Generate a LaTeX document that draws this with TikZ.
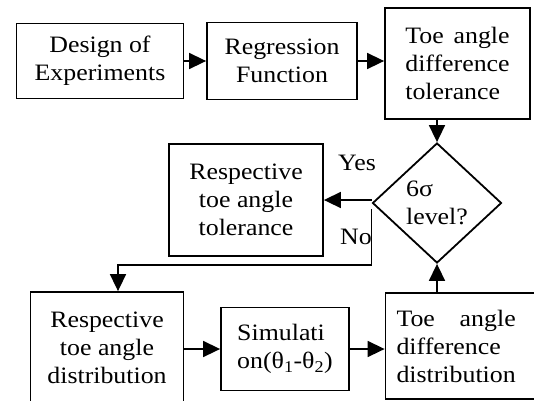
\documentclass[tikz,border=0pt]{standalone}
\usepackage{fontspec}
\usepackage{calc}
\setmainfont{Liberation Serif}[FakeStretch=1.1]
\usetikzlibrary{arrows.meta,shapes.geometric}

\newcommand{\spreadline}[3]{\makebox[\widthof{#3}][l]{#1\hfill#2}}

\begin{document}
\begin{tikzpicture}[x=1pt, y=-1pt,
		box/.style={draw, line width=1.8pt, inner sep=0pt, align=center,
			font=\fontsize{23.5}{28}\selectfont},
		decision/.style={diamond, draw, line width=1.8pt, inner sep=0pt, align=left,
			minimum width=129pt, minimum height=120pt,
			font=\fontsize{23.5}{28}\selectfont},
		arr/.style={-{Triangle[length=17pt,width=16pt]}, line width=1.6pt},
		lbl/.style={font=\fontsize{23.5}{28}\selectfont, inner sep=0pt}
			]
	\useasboundingbox (0,0) rectangle (534,400);
	\clip (0,0) rectangle (534,400);

	% top row
	\node[box, minimum width=167pt, minimum height=75pt] (doe) at (100,61) {Design of\\Experiments};
	\node[box, minimum width=150pt, minimum height=77pt] (reg) at (282,61) {Regression\\Function};
	\node[box, minimum width=145pt, minimum height=111pt, align=left] (tol) at (457.5,63.5)
		{\spreadline{Toe}{angle}{difference}\\difference\\tolerance};

	% decision
	\node[decision] (dec) at (437,203) {6σ\\level?};
	\node[box, minimum width=154pt, minimum height=112pt] (rtt) at (246,200) {Respective\\toe angle\\tolerance};
	\node[lbl] (yes) at (357,163) {Yes};
	\node[lbl] (no) at (356,237) {No};

	% bottom row
	\node[box, minimum width=153pt, minimum height=112pt] (rtd) at (107,348) {Respective\\toe angle\\distribution};
	\node[box, minimum width=128pt, minimum height=83pt, align=left] (sim) at (285,349)
		{Simulati\\on(θ\textsubscript{1}-θ\textsubscript{2})};
	\node[box, minimum width=160pt, minimum height=106pt, text width=138pt, align=left] (tdd) at (465.5,346)
		{\spreadline{Toe}{angle}{distribution}\\difference\\distribution};

	\coordinate (nostart) at ([yshift=-6pt]dec.west);
	\coordinate (nobend) at (118,265);

	\draw[arr] (doe.east) -- (doe.east -| reg.west);
	\draw[arr] (reg.east) -- (reg.east -| tol.west);
	\draw[arr] (tol.south -| dec.north) -- (dec.north);
	\draw[arr] ([yshift=3pt]dec.west) -- ([yshift=3pt]dec.west -| rtt.east);
	\draw[arr] (nostart) |- (nobend) -- (nobend |- rtd.north);
	\draw[arr] (sim.west -| rtd.east) -- (sim.west);
	\draw[arr] (sim.east) -- (sim.east -| tdd.west);
	\draw[arr] (tdd.north -| dec.south) -- (dec.south);
\end{tikzpicture}
\end{document}
